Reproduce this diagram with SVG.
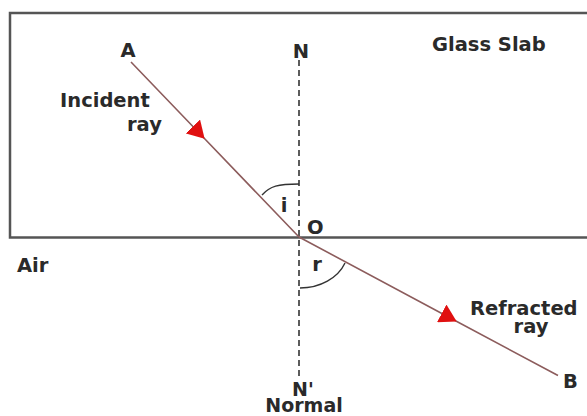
<svg xmlns="http://www.w3.org/2000/svg" width="587" height="416" viewBox="0 0 587 416">
<style>
text{font-family:"DejaVu Sans","Liberation Sans",sans-serif;font-weight:bold;font-size:19.5px;fill:#2a2a2a}
.ray{fill:none;stroke:#8c5c5c;stroke-width:1.6}
.arc{fill:none;stroke:#333;stroke-width:1.4}
</style>
<defs>
<marker id="ah" markerUnits="userSpaceOnUse" markerWidth="18" markerHeight="20" refX="6" refY="10" orient="auto" viewBox="0 0 18 20">
<path d="M0,0 L17,10 L0,20 z" fill="#e01010"/>
</marker>
</defs>
<g id="slab">
<path d="M587,13 L10,13 L10,237.5 L587,237.5" fill="#fff" stroke="#555" stroke-width="2.5"/>
</g>
<g id="connectors">
<line id="normal" x1="299" y1="60" x2="299" y2="378" stroke="#333" stroke-width="1.6" stroke-dasharray="6 4"/>
<polyline id="incident" class="ray" points="131,62 197,130.8 299,237" marker-mid="url(#ah)"/>
<polyline id="refracted" class="ray" points="299,237 447,316.2 558,375.5" marker-mid="url(#ah)"/>
<path id="arc-i" class="arc" d="M262,195 C270,186 278,184 299,184"/>
<path id="arc-r" class="arc" d="M300,288 C320,288 338,278 345,263"/>
</g>
<g id="labels">
<text x="128" y="57" text-anchor="middle">A</text>
<text x="301" y="58" text-anchor="middle">N</text>
<text x="432" y="51">Glass Slab</text>
<text x="60" y="107">Incident</text>
<text x="127" y="131">ray</text>
<text x="284" y="212" text-anchor="middle">i</text>
<text x="307" y="234">O</text>
<text x="17" y="272">Air</text>
<text x="317" y="271" text-anchor="middle">r</text>
<text x="470" y="315">Refracted</text>
<text x="531" y="333" text-anchor="middle">ray</text>
<text x="563" y="388">B</text>
<text x="292" y="396" style="font-size:19px">N'</text>
<text x="304" y="412" text-anchor="middle" style="font-size:19px">Normal</text>
</g>
</svg>
